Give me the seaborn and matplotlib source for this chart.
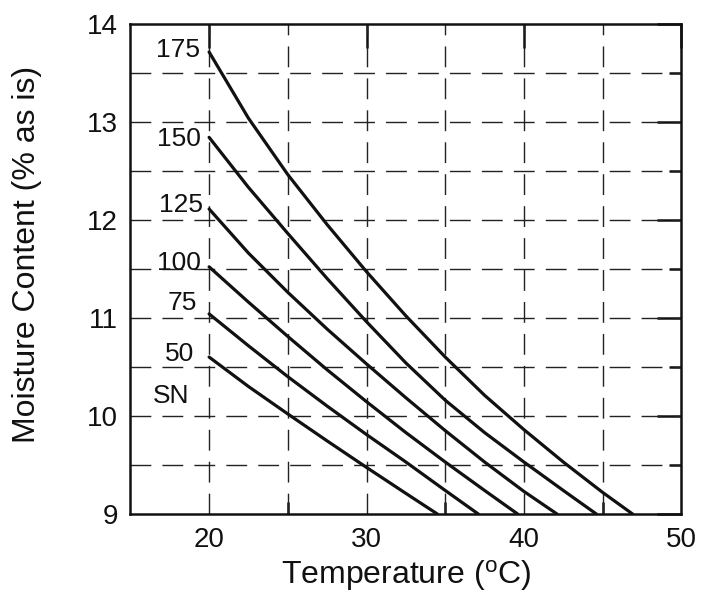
import numpy as np
import pandas as pd
import matplotlib
matplotlib.use("Agg")
import matplotlib.pyplot as plt
import seaborn as sns

# isotherm curves, one per level
levels = ["175", "150", "125", "100", "75", "50"]

t_175 = [20, 22.5, 25, 27.5, 30, 32.5, 35, 37.5, 40, 42.5, 45, 46.9]
m_175 = [13.71, 13.035, 12.46, 11.95, 11.47, 11.02, 10.6, 10.21, 9.86, 9.53, 9.22, 9.0]

t_150 = [20, 22.5, 25, 27.5, 30, 32.5, 35, 37.5, 40, 42.5, 44.6]
m_150 = [12.84, 12.33, 11.86, 11.40, 10.96, 10.54, 10.16, 9.83, 9.53, 9.24, 9.0]

t_125 = [20, 22.5, 25, 27.5, 30, 32.5, 35, 37.5, 40, 42.1]
m_125 = [12.11, 11.66, 11.26, 10.885, 10.53, 10.185, 9.85, 9.53, 9.23, 9.0]

t_100 = [20, 22.5, 25, 27.5, 30, 32.5, 35, 37.5, 39.6]
m_100 = [11.52, 11.16, 10.81, 10.47, 10.145, 9.83, 9.53, 9.24, 9.0]

t_75 = [20, 22.5, 25, 27.5, 30, 32.5, 35, 37.1]
m_75 = [11.04, 10.715, 10.40, 10.10, 9.81, 9.53, 9.24, 9.0]

t_50 = [20, 22.5, 25, 27.5, 30, 32.5, 34.5]
m_50 = [10.6, 10.30, 10.02, 9.745, 9.475, 9.21, 9.0]

# curve labels on the left, plus "SN" which has no curve
label_text = ["175", "150", "125", "100", "75", "50", "SN"]
label_x = [18.0, 18.1, 18.2, 18.1, 18.3, 18.1, 17.6]
label_y = [13.73, 12.82, 12.15, 11.56, 11.15, 10.63, 10.2]

x_ticks = [20, 30, 40, 50]
y_ticks = [9, 10, 11, 12, 13, 14]

rows = []
for lev, t, m in zip(levels, [t_175, t_150, t_125, t_100, t_75, t_50],
                     [m_175, m_150, m_125, m_100, m_75, m_50]):
    for a, b in zip(t, m):
        rows.append((lev, a, b))
df = pd.DataFrame(rows, columns=["level", "temp", "moisture"])

sns.set_theme(style="white")
plt.rcParams['font.family'] = ['Liberation Sans', 'DejaVu Sans']

fig = plt.figure(figsize=(7.01, 6.04), dpi=100)
ax = fig.add_axes([0.186, 0.149, 0.786, 0.812])

# dashed grid first so curves sit on top
for gx in [20, 25, 30, 35, 40, 45]:
    ax.axvline(gx, color="#222222", lw=1.0, dashes=(15, 8), zorder=1)
for gy in [9.5, 10, 10.5, 11, 11.5, 12, 12.5, 13, 13.5]:
    ax.axhline(gy, color="#222222", lw=1.0, dashes=(15, 8), zorder=1)

sns.lineplot(data=df, x="temp", y="moisture", hue="level",
             palette=["#111111"] * len(levels), estimator=None, sort=False,
             linewidth=2.3, legend=False, ax=ax, zorder=3)

for s, x, y in zip(label_text, label_x, label_y):
    ax.text(x, y, s, fontsize=19, ha="center", va="center", color="#111111", zorder=4)

ax.set_xlim(15, 50)
ax.set_ylim(9, 14)
ax.set_xticks(x_ticks)
ax.set_yticks(y_ticks)
ax.set_xticks([25, 35, 45], minor=True)
ax.set_yticks([9.5, 10.5, 11.5, 12.5, 13.5], minor=True)

ax.tick_params(which="major", direction="in", length=17, width=1.8, color="#111111",
               top=True, right=True, labelsize=20, pad=9, labelcolor="#111111")
ax.tick_params(which="minor", direction="in", length=9, width=1.8, color="#111111",
               bottom=True, left=False, top=False, right=True)

for sp in ax.spines.values():
    sp.set_linewidth(1.8)
    sp.set_color("#111111")

ax.set_xlabel("Temperature ($\\mathregular{^{o}}$C)", fontsize=23, labelpad=4, color="#111111")
ax.set_ylabel("Moisture Content (% as is)", fontsize=23, color="#111111")
ax.yaxis.set_label_coords(-0.16, 0.53)

fig.savefig("out.png", dpi=100, facecolor="white")
